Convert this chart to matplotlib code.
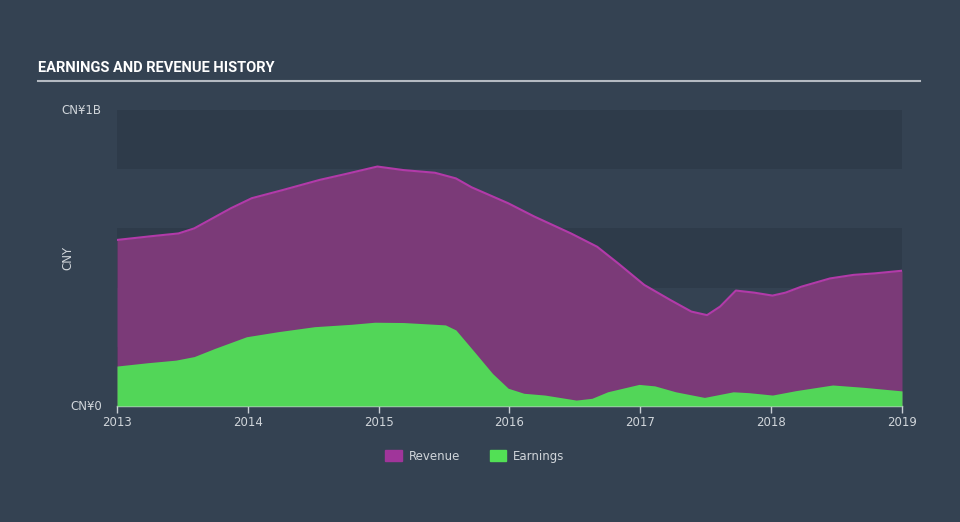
import matplotlib.pyplot as plt
from matplotlib.patches import Patch

# Revenue (CNY billions)
rev_x = [2013.0, 2013.27, 2013.47, 2013.59, 2013.73, 2013.87, 2014.03, 2014.27, 2014.55,
         2014.75, 2014.99, 2015.19, 2015.43, 2015.59, 2015.71, 2015.99, 2016.19, 2016.47,
         2016.67, 2016.83, 2017.03, 2017.23, 2017.39, 2017.51, 2017.61, 2017.73, 2017.87,
         2018.01, 2018.11, 2018.23, 2018.45, 2018.63, 2018.79, 2019.0]
rev_y = [0.561, 0.574, 0.583, 0.600, 0.634, 0.668, 0.702, 0.730, 0.764,
         0.784, 0.809, 0.797, 0.788, 0.769, 0.739, 0.685, 0.640, 0.583,
         0.538, 0.482, 0.409, 0.358, 0.319, 0.307, 0.336, 0.390, 0.383,
         0.373, 0.383, 0.403, 0.431, 0.443, 0.448, 0.457]

# Earnings (CNY billions)
earn_x = [2013.0, 2013.23, 2013.45, 2013.59, 2013.75, 2013.99, 2014.23, 2014.51, 2014.79,
          2014.97, 2015.19, 2015.51, 2015.59, 2015.73, 2015.87, 2015.99, 2016.11, 2016.27,
          2016.51, 2016.63, 2016.75, 2016.99, 2017.11, 2017.27, 2017.49, 2017.71, 2017.83,
          2018.01, 2018.19, 2018.47, 2018.71, 2019.0]
earn_y = [0.135, 0.146, 0.155, 0.167, 0.195, 0.234, 0.251, 0.268, 0.276,
          0.283, 0.282, 0.274, 0.257, 0.184, 0.110, 0.060, 0.043, 0.037,
          0.020, 0.026, 0.048, 0.073, 0.068, 0.048, 0.029, 0.048, 0.045,
          0.037, 0.052, 0.071, 0.063, 0.051]

years = [2013, 2014, 2015, 2016, 2017, 2018, 2019]

bg = '#344252'
band = '#2e3b4a'
txt = '#d0d5da'

fig = plt.figure(figsize=(9.6, 5.22), dpi=100, facecolor=bg)
ax = fig.add_axes([117 / 960, (522 - 406) / 522, 785 / 960, 296 / 522])
ax.set_facecolor(bg)

for lo in [0.0, 0.4, 0.8]:
    ax.axhspan(lo, lo + 0.2, color=band, zorder=0, lw=0)

ax.fill_between(rev_x, 0, rev_y, color='#7b3a78', zorder=2, lw=0)
ax.plot(rev_x, rev_y, color='#b23aa9', lw=1.5, zorder=3)
ax.fill_between(earn_x, 0, earn_y, color='#52d658', zorder=4, lw=0)

ax.set_xlim(2013, 2019.0)
ax.set_ylim(0, 1.0)
ax.set_xticks(years)
ax.set_xticklabels([str(y) for y in years])
ax.set_yticks([0, 1.0])
ax.set_yticklabels(['CN¥0', 'CN¥1B'])
ax.tick_params(axis='x', colors='#c8ced4', labelcolor=txt, labelsize=8.5, length=5, width=1, pad=2)
ax.tick_params(axis='y', length=0, labelcolor=txt, labelsize=8.5, pad=11)
for lab in ax.get_yticklabels():
    lab.set_verticalalignment('center')
for s in ['top', 'right', 'left']:
    ax.spines[s].set_visible(False)
ax.spines['bottom'].set_color('#c8ced4')
ax.spines['bottom'].set_linewidth(1)
ax.set_ylabel('CNY', color=txt, fontsize=8.5)
ax.yaxis.set_label_coords(-0.054, 0.5)

fig.text(38 / 960, 1 - 68 / 522, 'EARNINGS AND REVENUE HISTORY', color='white',
         fontsize=10.5, fontweight='bold', family='Roboto', va='center', ha='left')
fig.add_artist(plt.Line2D([38 / 960, 920 / 960], [1 - 81 / 522, 1 - 81 / 522],
                          color='#b4bac2', lw=1.5))

handles = [Patch(color='#a0359a', label='Revenue'), Patch(color='#52e055', label='Earnings')]
fig.legend(handles=handles, loc='center', bbox_to_anchor=(475 / 960, 1 - 456 / 522), ncol=2,
           frameon=False, fontsize=8.5, labelcolor=txt, handlelength=1.4, handleheight=1.0,
           columnspacing=2.5, handletextpad=0.6)

fig.savefig('out.png', dpi=100, facecolor=bg)
